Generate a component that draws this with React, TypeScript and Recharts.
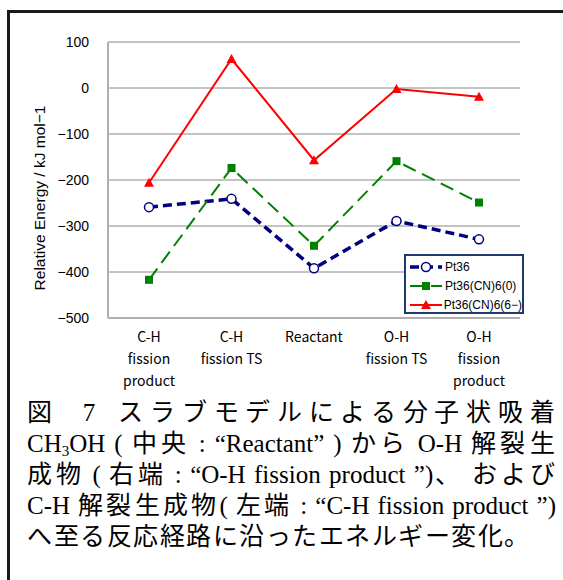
import React from 'react';
import { LineChart, Line, XAxis, YAxis, CartesianGrid, Legend } from 'recharts';

// ─── Data ─────────────────────────────────────────────────────────────────────

const CATEGORIES = ['C-H fission product', 'C-H fission TS', 'Reactant', 'O-H fission TS', 'O-H fission product'];
const CATEGORY_LINES = [
  ['C-H', 'fission', 'product'],
  ['C-H', 'fission TS'],
  ['Reactant'],
  ['O-H', 'fission TS'],
  ['O-H', 'fission', 'product'],
];
const PT36 = [-259, -241, -392, -289, -329];
const PT36_CN6_0 = [-417, -174, -343, -159, -249];
const PT36_CN6_6M = [-206, 63, -157, -2, -19];
const Y_TICKS = [-500, -400, -300, -200, -100, 0, 100];

const SERIES = [
  { key: 'pt36', name: 'Pt36', color: '#000080', width: 3.5, dash: '9 5', marker: 'circle' },
  { key: 'cn0', name: 'Pt36(CN)6(0)', color: '#008000', width: 2, dash: '14 7', marker: 'square' },
  { key: 'cn6', name: 'Pt36(CN)6(6−)', color: '#ff0000', width: 2, dash: undefined, marker: 'triangle' },
];

const data = CATEGORIES.map((c, i) => ({
  cat: c,
  pt36: PT36[i],
  cn0: PT36_CN6_0[i],
  cn6: PT36_CN6_6M[i],
}));

const AXIS_FONT = '"Liberation Sans", Arial, sans-serif';
const LABEL_FONT = '"Noto Sans CJK JP", "Liberation Sans", sans-serif';
const CJK_FONT = '"CaptionJP", "Noto Sans CJK JP", sans-serif';

// tighter line box for the caption's gothic face so stacked lines don't collide
const FONT_CSS = `
@font-face {
  font-family: "CaptionJP";
  src: local("Noto Sans CJK JP Regular"), local("NotoSansCJKjp-Regular"), local("Noto Sans CJK JP");
  ascent-override: 95%;
  descent-override: 22%;
  line-gap-override: 0%;
}
`;

// ─── Pieces ───────────────────────────────────────────────────────────────────

function Marker({ kind, cx, cy, color }: { kind: string; cx: number; cy: number; color: string }) {
  if (kind === 'circle') {
    return <circle cx={cx} cy={cy} r={4.5} fill="#fff" stroke={color} strokeWidth={1.5} />;
  }
  if (kind === 'square') {
    return <rect x={cx - 4} y={cy - 4} width={8} height={8} fill={color} />;
  }
  return <polygon points={`${cx},${cy - 5} ${cx + 5},${cy + 4} ${cx - 5},${cy + 4}`} fill={color} />;
}

function CategoryTick({ x, y, index }: any) {
  const lines = CATEGORY_LINES[index] || [];
  return (
    <text x={x} y={y} textAnchor="middle" fontFamily={LABEL_FONT} fontSize={14} fill="#000">
      {lines.map((l, i) => (
        <tspan key={i} x={x} y={y + 24 + i * 22}>{l}</tspan>
      ))}
    </text>
  );
}

function LegendBox() {
  return (
    <div
      style={{
        width: 120,
        height: 60,
        boxSizing: 'border-box',
        border: '2px solid #1f3b6e',
        background: '#fff',
        padding: '1px 0 0 2px',
      }}
    >
      {SERIES.map((s) => (
        <div key={s.key} style={{ display: 'flex', alignItems: 'center', height: 19 }}>
          <svg width={36} height={12}>
            <line x1={2} x2={34} y1={6} y2={6} stroke={s.color} strokeWidth={s.width} strokeDasharray={s.dash} />
            <Marker kind={s.marker} cx={18} cy={6} color={s.color} />
          </svg>
          <span style={{ fontFamily: AXIS_FONT, fontSize: 12, color: '#000', marginLeft: 1 }}>{s.name}</span>
        </div>
      ))}
    </div>
  );
}

// Japanese runs in the caption: gothic face, slightly tracked out
function J({ children }: { children: React.ReactNode }) {
  return <span style={{ fontFamily: CJK_FONT, fontSize: 25, letterSpacing: 1.5 }}>{children}</span>;
}

// ─── Main ─────────────────────────────────────────────────────────────────────

export default function App() {
  const lineStyle = { textAlignLast: 'justify', textAlign: 'justify', whiteSpace: 'nowrap', height: 31 } as const;
  return (
    <div style={{ position: 'absolute', left: 0, top: 0, width: 563, height: 580, background: '#fff', overflow: 'hidden' }}>
      <style>{FONT_CSS}</style>
      {/* frame: top + left rule */}
      <div
        style={{
          position: 'absolute',
          left: 7,
          top: 10,
          width: 556,
          height: 570,
          borderTop: '3px solid #1a1a1a',
          borderLeft: '3px solid #1a1a1a',
          boxSizing: 'border-box',
        }}
      />

      <div style={{ position: 'absolute', left: 0, top: 0 }}>
        <LineChart width={563} height={400} data={data} margin={{ top: 42, right: 43, left: 30, bottom: 0 }}>
          <CartesianGrid horizontal vertical={false} stroke="#888" strokeWidth={1} />
          <XAxis
            dataKey="cat"
            height={82}
            padding={{ left: 41, right: 41 }}
            axisLine={{ stroke: '#b0b0b0', strokeWidth: 2 }}
            tickLine={false}
            tickSize={0}
            tickMargin={0}
            interval={0}
            tick={<CategoryTick />}
          />
          <YAxis
            width={78}
            domain={[-500, 100]}
            ticks={Y_TICKS}
            axisLine={{ stroke: '#b0b0b0', strokeWidth: 2 }}
            tickLine={false}
            tickSize={0}
            tickMargin={19}
            tickFormatter={(v: number) => String(v).replace('-', '−')}
            tick={{ fill: '#000', fontSize: 14, fontFamily: AXIS_FONT }}
            label={{
              content: () => (
                <text
                  transform="translate(45,198) rotate(-90)"
                  textAnchor="middle"
                  fontFamily={AXIS_FONT}
                  fontSize={15.5}
                  fill="#000"
                >
                  Relative Energy / kJ mol−1
                </text>
              ),
            }}
          />
          <YAxis
            yAxisId="frame"
            orientation="right"
            width={0}
            domain={[-500, 100]}
            tick={false}
            tickLine={false}
            axisLine={{ stroke: '#b0b0b0', strokeWidth: 2 }}
          />
          {SERIES.map((s) => (
            <Line
              key={s.key}
              dataKey={s.key}
              name={s.name}
              type="linear"
              stroke={s.color}
              strokeWidth={s.width}
              strokeDasharray={s.dash}
              isAnimationActive={false}
              dot={(p: any) => <Marker key={`${s.key}-${p.index}`} kind={s.marker} cx={p.cx} cy={p.cy} color={s.color} />}
              activeDot={false}
            />
          ))}
          <Legend
            layout="vertical"
            align="center"
            verticalAlign="middle"
            wrapperStyle={{ left: 404, top: 254, width: 120, height: 60 }}
            content={() => <LegendBox />}
          />
        </LineChart>
      </div>

      {/* caption */}
      <div
        style={{
          position: 'absolute',
          left: 27,
          top: 397,
          width: 529,
          fontFamily: '"Liberation Serif", serif',
          fontSize: 25,
          lineHeight: '31px',
          color: '#000',
        }}
      >
        <div style={lineStyle}>
          <J>図</J>
          <span style={{ padding: '0 18px 0 24px' }}>7</span>
          <J>スラブモデルによる分子状吸着</J>
        </div>
        <div style={lineStyle}>
          CH<span style={{ fontSize: 15, verticalAlign: -4 }}>3</span>OH ( <J>中央</J> : “Reactant” ) <J>から</J> O-H <J>解裂生</J>
        </div>
        <div style={lineStyle}>
          <J>成物</J> ( <J>右端</J> : “O-H fission product ”)<J>、</J> <J>および</J>
        </div>
        <div style={lineStyle}>
          C-H <J>解裂生成物</J>( <J>左端</J> : “C-H fission product ”)
        </div>
        <div style={{ whiteSpace: 'nowrap', height: 31 }}>
          <J>へ至る反応経路に沿ったエネルギー変化。</J>
        </div>
      </div>
    </div>
  );
}
